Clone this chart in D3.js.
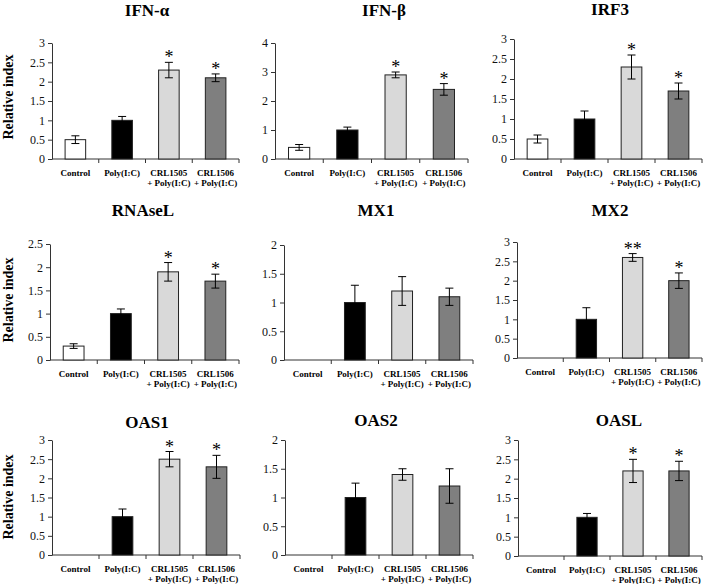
<!DOCTYPE html>
<html><head><meta charset="utf-8">
<script src="https://cdn.jsdelivr.net/npm/d3@7"></script>
<style>body{margin:0;background:#fff}svg{display:block}</style>
</head><body>
<script>
// ---- data ----
const categories = [["Control"], ["Poly(I:C)"], ["CRL1505", "+ Poly(I:C)"], ["CRL1506", "+ Poly(I:C)"]];
const genes = ["IFN-α", "IFN-β", "IRF3", "RNAseL", "MX1", "MX2", "OAS1", "OAS2", "OASL"];
const values = [
  [0.5, 1.0, 2.3, 2.1],
  [0.4, 1.0, 2.9, 2.4],
  [0.5, 1.0, 2.3, 1.7],
  [0.3, 1.0, 1.9, 1.7],
  [null, 1.0, 1.2, 1.1],
  [null, 1.0, 2.6, 2.0],
  [null, 1.0, 2.5, 2.3],
  [null, 1.0, 1.4, 1.2],
  [null, 1.0, 2.2, 2.2]
];
const errors = [
  [0.1, 0.1, 0.2, 0.1],
  [0.1, 0.1, 0.1, 0.2],
  [0.1, 0.2, 0.3, 0.2],
  [0.05, 0.1, 0.2, 0.15],
  [null, 0.3, 0.25, 0.15],
  [null, 0.3, 0.1, 0.2],
  [null, 0.2, 0.2, 0.3],
  [null, 0.25, 0.1, 0.3],
  [null, 0.1, 0.3, 0.25]
];
const stars = [
  ["", "", "*", "*"],
  ["", "", "*", "*"],
  ["", "", "*", "*"],
  ["", "", "*", "*"],
  ["", "", "", ""],
  ["", "", "**", "*"],
  ["", "", "*", "*"],
  ["", "", "", ""],
  ["", "", "*", "*"]
];
const yMax = [3, 4, 3, 2.5, 2, 3, 3, 2, 3];
const yStep = [0.5, 1, 0.5, 0.5, 0.5, 0.5, 0.5, 0.5, 0.5];
const yLabel = "Relative index";

// ---- layout (positions only) ----
const layout = [
  {x0: 52, x1: 239, yTop: 43, yBot: 159, tx: 147, ty: 10},
  {x0: 275, x1: 468, yTop: 43, yBot: 159, tx: 384, ty: 10},
  {x0: 514, x1: 702, yTop: 39, yBot: 159, tx: 610, ty: 9},
  {x0: 50, x1: 239, yTop: 244, yBot: 360, tx: 143, ty: 210},
  {x0: 284, x1: 473, yTop: 245, yBot: 360, tx: 376, ty: 210},
  {x0: 517, x1: 702, yTop: 242, yBot: 358, tx: 610, ty: 210},
  {x0: 52, x1: 240, yTop: 440, yBot: 555, tx: 147, ty: 422},
  {x0: 285, x1: 473, yTop: 440, yBot: 555, tx: 376, ty: 420},
  {x0: 518, x1: 702, yTop: 440, yBot: 556, tx: 619, ty: 420}
];
const yLabelPos = [97, 300, 497];
const fills = ["#ffffff", "#000000", "#d9d9d9", "#7f7f7f"];
const serif = "'Liberation Serif','Times New Roman',serif";
const axisColor = "#333";

const svg = d3.select("body").append("svg").attr("width", 708).attr("height", 584)
  .style("font-family", serif);

yLabelPos.forEach(cy => {
  svg.append("text").attr("transform", `translate(13,${cy}) rotate(-90)`)
    .attr("text-anchor", "middle").attr("font-size", 14).attr("font-weight", "bold")
    .attr("fill", "#000").text(yLabel);
});

genes.forEach((gene, i) => {
  const L = layout[i];
  const g = svg.append("g");
  const x = d3.scaleBand().domain(d3.range(categories.length)).range([L.x0, L.x1]).padding(0);
  const y = d3.scaleLinear().domain([0, yMax[i]]).range([L.yBot, L.yTop]);
  const bw = x.bandwidth();
  const barW = bw * 0.44;

  // title
  g.append("text").attr("x", L.tx).attr("y", L.ty).attr("dy", "0.35em")
    .attr("text-anchor", "middle").attr("font-size", 17).attr("font-weight", "bold")
    .attr("fill", "#000").text(gene);

  // y axis
  const ticks = d3.range(0, yMax[i] + 1e-9, yStep[i]);
  const ya = g.append("g").attr("transform", `translate(${L.x0},0)`)
    .call(d3.axisLeft(y).tickValues(ticks).tickSize(4).tickSizeOuter(0).tickPadding(3)
      .tickFormat(d3.format("~g")));
  ya.selectAll("text").attr("font-size", 12).attr("font-family", serif).attr("fill", "#111");
  ya.selectAll("line,path").attr("stroke", axisColor);

  // x axis
  g.append("line").attr("x1", L.x0).attr("x2", L.x1).attr("y1", L.yBot).attr("y2", L.yBot)
    .attr("stroke", axisColor);
  g.selectAll(".xt").data(d3.range(categories.length)).join("line")
    .attr("x1", d => x(d) + bw).attr("x2", d => x(d) + bw)
    .attr("y1", L.yBot).attr("y2", L.yBot + 4).attr("stroke", axisColor);

  // category labels
  categories.forEach((lines, k) => {
    lines.forEach((ln, j) => {
      g.append("text").attr("x", x(k) + bw / 2).attr("y", L.yBot + 14 + j * 10).attr("dy", "0.35em")
        .attr("text-anchor", "middle").attr("font-size", 9).attr("font-weight", "bold")
        .attr("fill", "#000").text(ln);
    });
  });

  // bars
  values[i].forEach((v, k) => {
    if (v == null) return;
    const cx = x(k) + bw / 2;
    g.append("rect").attr("x", cx - barW / 2).attr("y", y(v)).attr("width", barW)
      .attr("height", y(0) - y(v)).attr("fill", fills[k]).attr("stroke", "#222").attr("stroke-width", 1);
    const e = errors[i][k];
    const top = y(v + e), bot = y(v - e);
    g.append("line").attr("x1", cx).attr("x2", cx).attr("y1", top).attr("y2", bot).attr("stroke", "#000");
    [top, bot].forEach(yy => g.append("line").attr("x1", cx - 4).attr("x2", cx + 4)
      .attr("y1", yy).attr("y2", yy).attr("stroke", "#000"));
    if (stars[i][k]) {
      g.append("text").attr("x", cx).attr("y", top + 1).attr("text-anchor", "middle")
        .attr("font-size", 18).attr("fill", "#000").text(stars[i][k]);
    }
  });
});
</script>
</body></html>
